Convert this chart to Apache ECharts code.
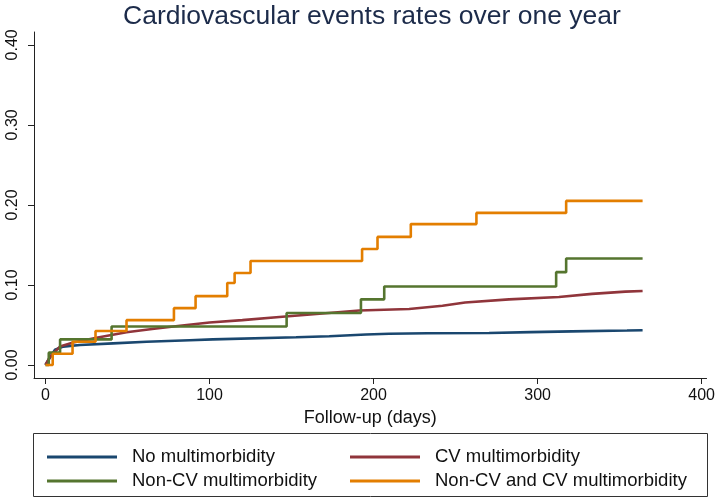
<!DOCTYPE html>
<html>
<head>
<meta charset="utf-8">
<script src="https://cdn.jsdelivr.net/npm/echarts@6/dist/echarts.min.js"></script>
<style>
html,body{margin:0;padding:0;background:#fff;}
#chart{width:718px;height:504px;}
</style>
</head>
<body>
<div id="chart"></div>
<script>
// ---- data ----
const titleText = 'Cardiovascular events rates over one year';
const xAxisTitle = 'Follow-up (days)';
const xTicks = [0, 100, 200, 300, 400];
const yTicks = [0, 0.1, 0.2, 0.3, 0.4];
const seriesNames = ['No multimorbidity', 'CV multimorbidity', 'Non-CV multimorbidity', 'Non-CV and CV multimorbidity'];

// No multimorbidity: [day, cumulative rate]
const noMulti = [[0,0],[1.7,0.006],[5.8,0.019],[10.8,0.023],[21,0.025],[41.2,0.027],[61.6,0.029],[87.9,0.031],[102,0.032],[152.8,0.0346],[173,0.036],[195.4,0.038],[209.5,0.039],[232.8,0.0396],[270.4,0.040],[295.7,0.041],[321,0.042],[354.5,0.043],[364,0.0434]];
// CV multimorbidity
const cvMulti = [[0,0],[2.7,0.010],[8.8,0.023],[16.9,0.028],[31.1,0.034],[49.4,0.041],[65,0.045],[82,0.049],[100,0.053],[120,0.056],[142.6,0.060],[167,0.064],[191.3,0.068],[221.7,0.070],[242,0.074],[255.8,0.078],[282.6,0.082],[313,0.085],[333.2,0.0888],[353.5,0.0917],[364,0.0925]];
// Non-CV multimorbidity
const nonCvMulti = [[0,0],[2,0.0154],[8.9,0.032],[40.3,0.048],[147,0.065],[192.3,0.082],[206.5,0.098],[311.3,0.116],[317.4,0.133],[364,0.133]];
// Non-CV and CV multimorbidity
const bothMulti = [[0,0],[4.4,0.014],[16.5,0.029],[30.5,0.0425],[49.4,0.056],[78.3,0.071],[91.5,0.086],[110.8,0.1025],[115.3,0.115],[125,0.13],[193,0.145],[202.4,0.160],[222.7,0.176],[262.7,0.190],[317.4,0.205],[364,0.205]];

const colors = ['#1a476f', '#90353b', '#55752f', '#e37e00'];

const FONT = '"Liberation Sans", Arial, sans-serif';
const chart = echarts.init(document.getElementById('chart'), null, {renderer: 'canvas'});

function mkSeries(name, data, color, step) {
  return {
    name: name, type: 'line', data: data, step: step,
    showSymbol: false, symbol: 'none',
    lineStyle: {color: color, width: 2.6},
    itemStyle: {color: color},
    emphasis: {disabled: true},
    silent: true
  };
}

const legendText = {fontSize: 18.5, lineHeight: 20, color: '#111', fontFamily: FONT, padding: [0,0,0,10]};

chart.setOption({
  animation: false,
  backgroundColor: '#fff',
  title: {
    text: titleText, left: 123, top: 3,
    padding: 0,
    textStyle: {fontSize: 26.5, fontWeight: 'normal', color: '#1c2b4a', fontFamily: FONT}
  },
  grid: {left: 34, right: 10, top: 32, bottom: 126, containLabel: false},
  xAxis: {
    type: 'value', min: -7, max: 403,
    axisLine: {show: true, onZero: false, lineStyle: {color: '#222', width: 1}},
    axisTick: {show: true, customValues: xTicks, length: 6, lineStyle: {color: '#222'}},
    axisLabel: {customValues: xTicks, fontSize: 16, margin: 10, color: '#111', fontFamily: FONT},
    splitLine: {show: false},
    name: xAxisTitle, nameLocation: 'middle', nameGap: 29,
    nameTextStyle: {fontSize: 18, color: '#111', fontFamily: FONT}
  },
  yAxis: {
    type: 'value', min: -0.01625, max: 0.416,
    axisLine: {show: true, onZero: false, lineStyle: {color: '#222', width: 1}},
    axisTick: {show: true, customValues: yTicks, length: 6, lineStyle: {color: '#222'}},
    axisLabel: {customValues: yTicks, fontSize: 16, margin: 13, rotate: 90, color: '#111', fontFamily: FONT,
      formatter: function (v) { return v.toFixed(2); }},
    splitLine: {show: false}
  },
  legend: [
    {data: [seriesNames[0], seriesNames[2]], orient: 'vertical', left: 42, top: 442,
     itemWidth: 70, itemHeight: 3, itemGap: 4, icon: 'rect', selectedMode: false, textStyle: legendText},
    {data: [seriesNames[1], seriesNames[3]], orient: 'vertical', left: 345, top: 442,
     itemWidth: 70, itemHeight: 3, itemGap: 4, icon: 'rect', selectedMode: false, textStyle: legendText}
  ],
  graphic: [{
    type: 'rect', silent: true,
    shape: {x: 33.5, y: 433.5, width: 674, height: 63},
    style: {fill: 'none', stroke: '#333', lineWidth: 1}
  }],
  series: [
    mkSeries(seriesNames[0], noMulti, colors[0], false),
    mkSeries(seriesNames[1], cvMulti, colors[1], false),
    mkSeries(seriesNames[2], nonCvMulti, colors[2], 'end'),
    mkSeries(seriesNames[3], bothMulti, colors[3], 'end')
  ]
});
</script>
</body>
</html>
